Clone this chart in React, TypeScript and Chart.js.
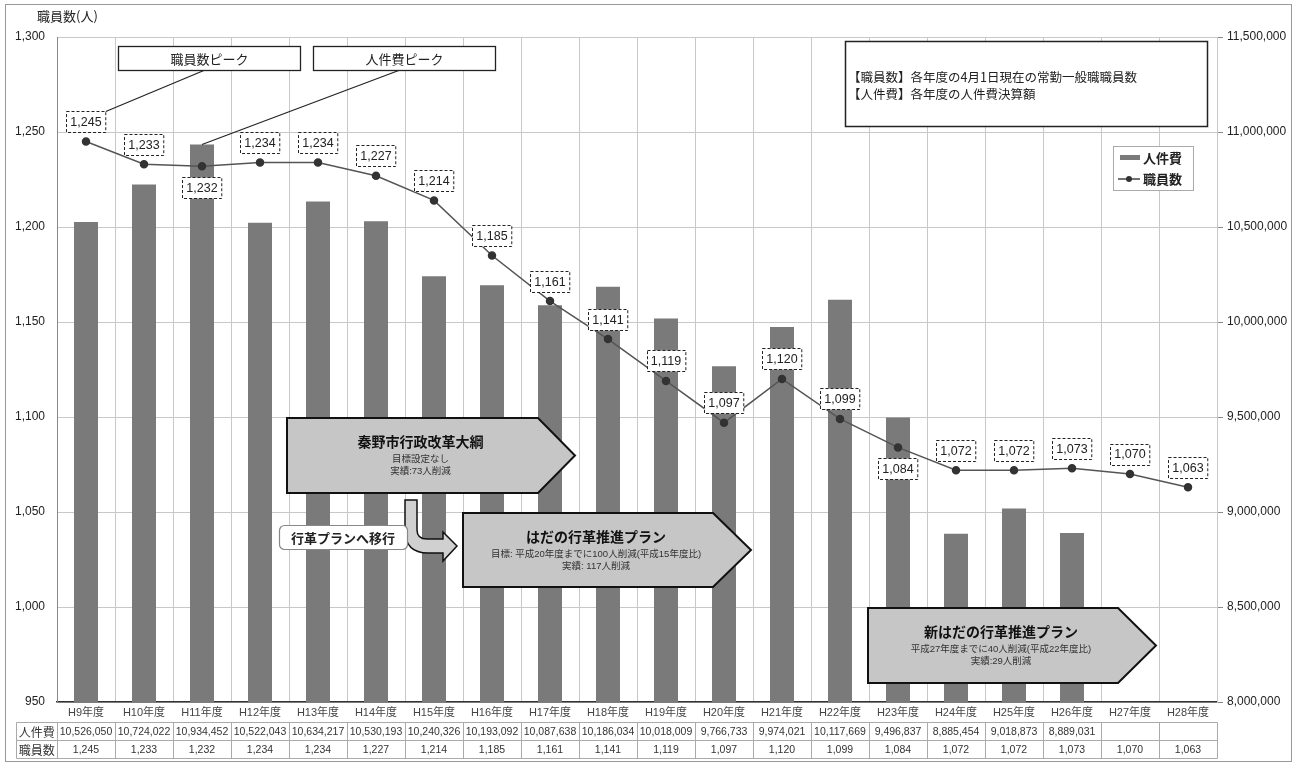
import React, { useEffect, useRef } from 'react';
import { Chart, registerables } from 'chart.js';

Chart.register(...registerables);

const categories = ['H9年度', 'H10年度', 'H11年度', 'H12年度', 'H13年度', 'H14年度', 'H15年度', 'H16年度', 'H17年度', 'H18年度', 'H19年度', 'H20年度', 'H21年度', 'H22年度', 'H23年度', 'H24年度', 'H25年度', 'H26年度', 'H27年度', 'H28年度'];
const personnelCost: (number | null)[] = [10526050, 10724022, 10934452, 10522043, 10634217, 10530193, 10240326, 10193092, 10087638, 10186034, 10018009, 9766733, 9974021, 10117669, 9496837, 8885454, 9018873, 8889031, null, null];
const staffCount = [1245, 1233, 1232, 1234, 1234, 1227, 1214, 1185, 1161, 1141, 1119, 1097, 1120, 1099, 1084, 1072, 1072, 1073, 1070, 1063];
const labelBelowIndices = [2, 14];
const staffTicks = { min: 950, max: 1300, step: 50 };
const costTicks = { min: 8000000, max: 11500000, step: 500000 };

const seriesNames = { cost: '人件費', staff: '職員数' };
const axisTitle = '職員数(人)';
const peakStaffLabel = '職員数ピーク';
const peakCostLabel = '人件費ピーク';
const noteLines = ['【職員数】各年度の4月1日現在の常勤一般職職員数', '【人件費】各年度の人件費決算額'];
const plans = [
  { title: '秦野市行政改革大綱', lines: ['目標設定なし', '実績:73人削減'] },
  { title: 'はだの行革推進プラン', lines: ['目標: 平成20年度までに100人削減(平成15年度比)', '実績: 117人削減'] },
  { title: '新はだの行革推進プラン', lines: ['平成27年度までに40人削減(平成22年度比)', '実績:29人削減'] },
];
const transitionLabel = '行革プランへ移行';

const JP = "'Noto Sans CJK JP', sans-serif";
const MIX = "'Liberation Sans', 'Noto Sans CJK JP', sans-serif";
const fmt = (v: number) => v.toLocaleString('en-US');

function drawPentagon(ctx: CanvasRenderingContext2D, left: number, top: number, notch: number, tip: number, bottom: number, plan: { title: string; lines: string[] }) {
  const mid = (top + bottom) / 2;
  ctx.save();
  ctx.beginPath();
  ctx.moveTo(left, top);
  ctx.lineTo(notch, top);
  ctx.lineTo(tip, mid);
  ctx.lineTo(notch, bottom);
  ctx.lineTo(left, bottom);
  ctx.closePath();
  ctx.fillStyle = '#c6c6c6';
  ctx.fill();
  ctx.lineWidth = 2;
  ctx.strokeStyle = '#111';
  ctx.lineJoin = 'miter';
  ctx.stroke();
  const cx = (left + notch) / 2 + 8;
  ctx.textAlign = 'center';
  ctx.textBaseline = 'middle';
  ctx.fillStyle = '#111';
  ctx.font = `bold 14px ${JP}`;
  ctx.fillText(plan.title, cx, top + 24);
  ctx.fillStyle = '#333';
  ctx.font = `9.5px ${MIX}`;
  ctx.fillText(plan.lines[0], cx, top + 41);
  ctx.fillText(plan.lines[1], cx, top + 53);
  ctx.restore();
}

const annotationPlugin = {
  id: 'annotations',
  afterDatasetsDraw(chart: any) {
    const ctx: CanvasRenderingContext2D = chart.ctx;
    const xs = chart.scales.x;
    const ys = chart.scales.y;
    const y1s = chart.scales.y1;

    // plan arrows
    drawPentagon(ctx, 287, 418, 538, 575, 493, plans[0]);
    drawPentagon(ctx, 463, 513, 713, 751, 587, plans[1]);
    drawPentagon(ctx, 868, 608, 1118, 1156, 683, plans[2]);

    // bent arrow
    ctx.save();
    ctx.beginPath();
    ctx.moveTo(405, 500);
    ctx.lineTo(417, 500);
    ctx.lineTo(417, 530);
    ctx.quadraticCurveTo(417, 539, 427, 539);
    ctx.lineTo(443, 539);
    ctx.lineTo(443, 532);
    ctx.lineTo(457, 546);
    ctx.lineTo(443, 561);
    ctx.lineTo(443, 553);
    ctx.lineTo(428, 553);
    ctx.quadraticCurveTo(405, 553, 405, 530);
    ctx.closePath();
    ctx.fillStyle = '#d0d0d0';
    ctx.fill();
    ctx.lineWidth = 1.5;
    ctx.strokeStyle = '#111';
    ctx.stroke();
    ctx.beginPath();
    (ctx as any).roundRect(279.5, 525.5, 128, 24, 5);
    ctx.fillStyle = '#fff';
    ctx.fill();
    ctx.strokeStyle = '#888';
    ctx.lineWidth = 1.2;
    ctx.stroke();
    ctx.fillStyle = '#222';
    ctx.font = `bold 13px ${JP}`;
    ctx.textAlign = 'center';
    ctx.textBaseline = 'middle';
    ctx.fillText(transitionLabel, 343, 538);
    ctx.restore();

    // data labels (dashed boxes)
    ctx.save();
    ctx.font = `12.5px ${MIX}`;
    ctx.textAlign = 'center';
    ctx.textBaseline = 'middle';
    let firstBoxCorner = { x: 0, y: 0 };
    staffCount.forEach((v, i) => {
      const px = xs.getPixelForValue(i);
      const py = ys.getPixelForValue(v);
      const below = labelBelowIndices.includes(i);
      const cy = below ? py + 21 : py - 20;
      const txt = fmt(v);
      const w = ctx.measureText(txt).width + 8;
      const h = 21;
      const bx = Math.round(px - w / 2) + 0.5;
      const by = Math.round(cy - h / 2) + 0.5;
      ctx.setLineDash([]);
      ctx.fillStyle = '#fff';
      ctx.fillRect(bx, by, w, h);
      ctx.setLineDash([3, 2]);
      ctx.strokeStyle = '#222';
      ctx.lineWidth = 1;
      ctx.strokeRect(bx, by, w, h);
      ctx.fillStyle = '#222';
      ctx.fillText(txt, px, cy + 1);
      if (i === 0) firstBoxCorner = { x: bx + w, y: by };
    });
    ctx.setLineDash([]);
    ctx.restore();

    // peak callouts
    ctx.save();
    ctx.strokeStyle = '#222';
    ctx.lineWidth = 1.2;
    ctx.beginPath();
    ctx.moveTo(205, 70);
    ctx.lineTo(firstBoxCorner.x, firstBoxCorner.y);
    ctx.stroke();
    let peakIdx = 0;
    personnelCost.forEach((v, i) => {
      if (v != null && v > (personnelCost[peakIdx] as number)) peakIdx = i;
    });
    ctx.beginPath();
    ctx.moveTo(400, 70);
    ctx.lineTo(xs.getPixelForValue(peakIdx), y1s.getPixelForValue(personnelCost[peakIdx]));
    ctx.stroke();
    const boxes = [
      { x: 118.5, label: peakStaffLabel },
      { x: 313.5, label: peakCostLabel },
    ];
    boxes.forEach((b) => {
      ctx.fillStyle = '#fff';
      ctx.fillRect(b.x, 46.5, 182, 24);
      ctx.lineWidth = 1.3;
      ctx.strokeRect(b.x, 46.5, 182, 24);
      ctx.fillStyle = '#222';
      ctx.font = `13px ${JP}`;
      ctx.textAlign = 'center';
      ctx.textBaseline = 'middle';
      ctx.fillText(b.label, b.x + 91, 59);
    });

    // note box
    ctx.fillStyle = '#fff';
    ctx.fillRect(845.5, 41.5, 362, 85);
    ctx.lineWidth = 1.5;
    ctx.strokeStyle = '#222';
    ctx.strokeRect(845.5, 41.5, 362, 85);
    ctx.fillStyle = '#222';
    ctx.font = `12.5px ${JP}`;
    ctx.textAlign = 'left';
    ctx.fillText(noteLines[0], 848, 77);
    ctx.fillText(noteLines[1], 848, 94);

    // legend
    ctx.fillStyle = '#fff';
    ctx.fillRect(1113.5, 146.5, 80, 44);
    ctx.lineWidth = 1;
    ctx.strokeStyle = '#aaa';
    ctx.strokeRect(1113.5, 146.5, 80, 44);
    ctx.fillStyle = '#7a7a7a';
    ctx.fillRect(1120, 155, 20, 5);
    ctx.strokeStyle = '#444';
    ctx.lineWidth = 1.5;
    ctx.beginPath();
    ctx.moveTo(1118, 179);
    ctx.lineTo(1140, 179);
    ctx.stroke();
    ctx.fillStyle = '#333';
    ctx.beginPath();
    ctx.arc(1129, 179, 3, 0, Math.PI * 2);
    ctx.fill();
    ctx.fillStyle = '#222';
    ctx.font = `bold 13px ${JP}`;
    ctx.fillText(seriesNames.cost, 1143, 158);
    ctx.fillText(seriesNames.staff, 1143, 179);
    ctx.restore();
  },
  afterDraw(chart: any) {
    const ctx: CanvasRenderingContext2D = chart.ctx;
    const xs = chart.scales.x;
    const area = chart.chartArea;
    ctx.save();
    // axis title
    ctx.fillStyle = '#222';
    ctx.font = `13px ${JP}`;
    ctx.textAlign = 'left';
    ctx.textBaseline = 'middle';
    ctx.fillText(axisTitle, 37, 16);

    // data table
    const top = 722.5, rowH = 18;
    const tableLeft = 16.5;
    ctx.strokeStyle = '#aaa';
    ctx.lineWidth = 1;
    for (let r = 0; r <= 2; r++) {
      ctx.beginPath();
      ctx.moveTo(tableLeft, top + r * rowH);
      ctx.lineTo(area.right + 0.5, top + r * rowH);
      ctx.stroke();
    }
    const colW = (area.right - area.left) / categories.length;
    const verts = [tableLeft];
    for (let i = 0; i <= categories.length; i++) verts.push(Math.round(area.left + i * colW) + 0.5);
    verts.forEach((vx) => {
      ctx.beginPath();
      ctx.moveTo(vx, top);
      ctx.lineTo(vx, top + 2 * rowH);
      ctx.stroke();
    });
    ctx.textAlign = 'center';
    ctx.fillStyle = '#333';
    ctx.font = `12px ${JP}`;
    ctx.fillText(seriesNames.cost, (tableLeft + area.left) / 2, top + rowH / 2 + 0.5);
    ctx.fillText(seriesNames.staff, (tableLeft + area.left) / 2, top + rowH * 1.5 + 0.5);
    ctx.font = `10.5px ${MIX}`;
    categories.forEach((_, i) => {
      const cx = xs.getPixelForValue(i);
      const c = personnelCost[i];
      if (c != null) ctx.fillText(fmt(c), cx, top + rowH / 2 + 0.5);
      ctx.fillText(fmt(staffCount[i]), cx, top + rowH * 1.5 + 0.5);
    });

    // outer frame
    ctx.strokeStyle = '#999';
    ctx.lineWidth = 1;
    ctx.strokeRect(5.5, 4.5, 1286, 757);
    ctx.restore();
  },
};

export default function App() {
  const canvasRef = useRef<HTMLCanvasElement | null>(null);

  useEffect(() => {
    document.body.style.margin = '0';
    const canvas = canvasRef.current;
    if (!canvas) return;
    const chart = new Chart(canvas, {
      type: 'bar',
      data: {
        labels: categories,
        datasets: [
          {
            type: 'line',
            label: seriesNames.staff,
            data: staffCount,
            yAxisID: 'y',
            borderColor: '#555',
            borderWidth: 1.5,
            pointRadius: 3.5,
            pointBackgroundColor: '#333',
            pointBorderColor: '#333',
            tension: 0,
            order: 0,
          } as any,
          {
            type: 'bar',
            label: seriesNames.cost,
            data: personnelCost,
            yAxisID: 'y1',
            backgroundColor: '#7a7a7a',
            categoryPercentage: 1,
            barPercentage: 0.414,
            order: 1,
          } as any,
        ],
      },
      options: {
        responsive: false,
        animation: false,
        layout: { padding: { top: 37, left: 0, right: 0, bottom: 0 } },
        plugins: { legend: { display: false }, tooltip: { enabled: false } },
        scales: {
          x: {
            offset: true,
            grid: { offset: true, color: '#c8c8c8', drawTicks: false },
            border: { color: '#333', width: 1.5 },
            ticks: { color: '#444', font: { size: 11, family: MIX }, padding: 4, maxRotation: 0, autoSkip: false },
            afterFit: (s: any) => { s.height = 62; },
          },
          y: {
            position: 'left',
            min: staffTicks.min,
            max: staffTicks.max,
            ticks: { stepSize: staffTicks.step, color: '#222', font: { size: 12, family: MIX }, padding: 12, callback: (v: any) => fmt(Number(v)) },
            grid: { color: '#c8c8c8', drawTicks: false },
            border: { color: '#888' },
            afterFit: (s: any) => { s.width = 57; },
          },
          y1: {
            position: 'right',
            min: costTicks.min,
            max: costTicks.max,
            ticks: { stepSize: costTicks.step, color: '#222', font: { size: 12, family: MIX }, padding: 4, callback: (v: any) => fmt(Number(v)) },
            grid: { drawOnChartArea: false, color: '#888', tickLength: 6 },
            border: { color: '#c8c8c8' },
            afterFit: (s: any) => { s.width = 82; },
          },
        },
      },
      plugins: [annotationPlugin],
    });
    return () => chart.destroy();
  }, []);

  return (
    <div style={{ width: 1299, height: 764 }}>
      <canvas ref={canvasRef} width={1299} height={764} style={{ display: 'block' }} />
    </div>
  );
}
